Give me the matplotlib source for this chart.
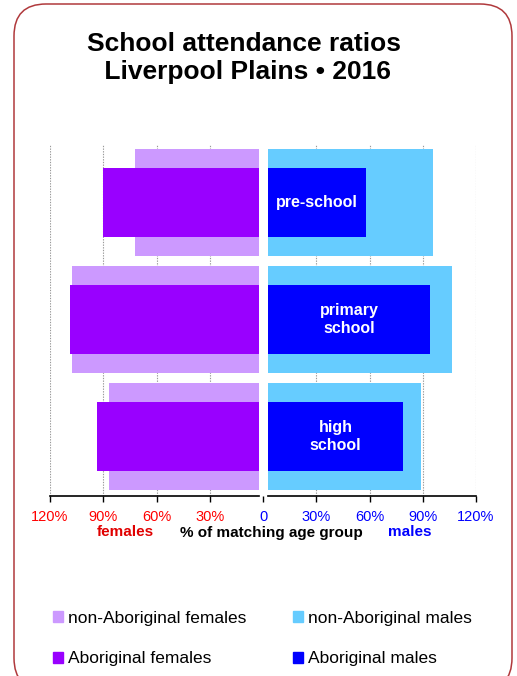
import matplotlib
matplotlib.use("Agg")
import matplotlib.pyplot as plt
from matplotlib.patches import Patch, FancyBboxPatch
from matplotlib.transforms import IdentityTransform, blended_transform_factory

plt.rcParams['font.family'] = ['Liberation Sans', 'DejaVu Sans']

# ---- data ----
categories = ["pre-school", "primary\nschool", "high\nschool"]
nonabor_females = [72, 107.5, 86.5]
abor_females = [90, 108.5, 93.5]
nonabor_males = [96, 106.5, 89]
abor_males = [58, 94, 79]
left_ticks = [-120, -90, -60, -30]
left_labels = ["120%", "90%", "60%", "30%"]
right_ticks = [0, 30, 60, 90, 120]
right_labels = ["0", "30%", "60%", "90%", "120%"]

c_naf = "#CC99FF"
c_af = "#9900FF"
c_nam = "#66CCFF"
c_am = "#0000FF"

W, H = 517, 676
fig = plt.figure(figsize=(W / 100, H / 100), dpi=100)

# rounded border
border = FancyBboxPatch((14, -14), 498, 686, boxstyle="round,pad=0,rounding_size=32",
                        transform=IdentityTransform(), facecolor="none",
                        edgecolor="#B0393C", linewidth=1.1, zorder=0)
fig.patches.append(border)

fig.text(244 / W, 1 - 58 / H, "School attendance ratios\n Liverpool Plains \u2022 2016",
         ha="center", va="center", fontsize=19, fontweight="bold", linespacing=1.2)

ax_l, ax_r = 50, 476
ax_t, ax_b = 145, 495.7
ax = fig.add_axes([ax_l / W, 1 - ax_b / H, (ax_r - ax_l) / W, (ax_b - ax_t) / H])

gap_l, gap_r = 2.3, 2.8
y = list(range(len(categories)))
outer_h, inner_h = 0.91, 0.59

ax.barh(y, [-(v - gap_l) for v in nonabor_females], left=-gap_l, height=outer_h, color=c_naf, zorder=2)
ax.barh(y, [-(v - gap_l) for v in abor_females], left=-gap_l, height=inner_h, color=c_af, zorder=3)
ax.barh(y, [v - gap_r for v in nonabor_males], left=gap_r, height=outer_h, color=c_nam, zorder=2)
ax.barh(y, [v - gap_r for v in abor_males], left=gap_r, height=inner_h, color=c_am, zorder=3)

for yi, cat, v in zip(y, categories, abor_males):
    ax.text(gap_r + (v - gap_r) / 2, yi, cat, ha="center", va="center", color="white",
            fontsize=11.5, fontweight="bold", multialignment="center",
            zorder=4, linespacing=1.2)

ax.set_xlim(-120, 120)
ax.set_ylim(2.505, -0.49)

for g in [-120, -90, -60, -30, 30, 60, 90, 120]:
    ax.axvline(g, color="#999999", linestyle=(0, (1.2, 1.2)), linewidth=0.8, zorder=1)

for s in ax.spines.values():
    s.set_visible(False)
ax.set_yticks([])

tr = blended_transform_factory(ax.transData, ax.transAxes)
# axis line split in two
ax.plot([-120, -gap_l], [0, 0], transform=tr, color="black", linewidth=1.2, clip_on=False, zorder=5)
ax.plot([gap_r, 120], [0, 0], transform=tr, color="black", linewidth=1.2, clip_on=False, zorder=5)

ticks = left_ticks + right_ticks
labels = left_labels + right_labels
ax.set_xticks(ticks)
ax.set_xticklabels(labels, fontsize=10.5)
ax.tick_params(axis="x", direction="out", length=4, width=1, pad=6.5)
for lab, t in zip(ax.get_xticklabels(), ticks):
    lab.set_color("#FF0000" if t < 0 else "#0000FF")

yy = -(532.5 - ax_b) / (ax_b - ax_t)
ax.text(-77.7, yy, "females", transform=tr, ha="center", va="center", color="#E00000",
        fontsize=11, fontweight="bold")
ax.text(4.9, yy, "% of matching age group", transform=tr, ha="center", va="center",
        color="black", fontsize=11, fontweight="bold")
ax.text(82.8, yy, "males", transform=tr, ha="center", va="center", color="#0000FF",
        fontsize=11, fontweight="bold")

handles = [Patch(color=c_naf, label="non-Aboriginal females"),
           Patch(color=c_af, label="Aboriginal females"),
           Patch(color=c_nam, label="non-Aboriginal males"),
           Patch(color=c_am, label="Aboriginal males")]
fig.legend(handles=handles, ncol=2, loc="center left",
           bbox_to_anchor=(53 / W, 1 - 638.5 / H), frameon=False, fontsize=12.5,
           handlelength=0.58, handleheight=0.58, handletextpad=0.3,
           columnspacing=2.65, labelspacing=1.48, borderaxespad=0, borderpad=0)

fig.savefig("out.png", dpi=100)
